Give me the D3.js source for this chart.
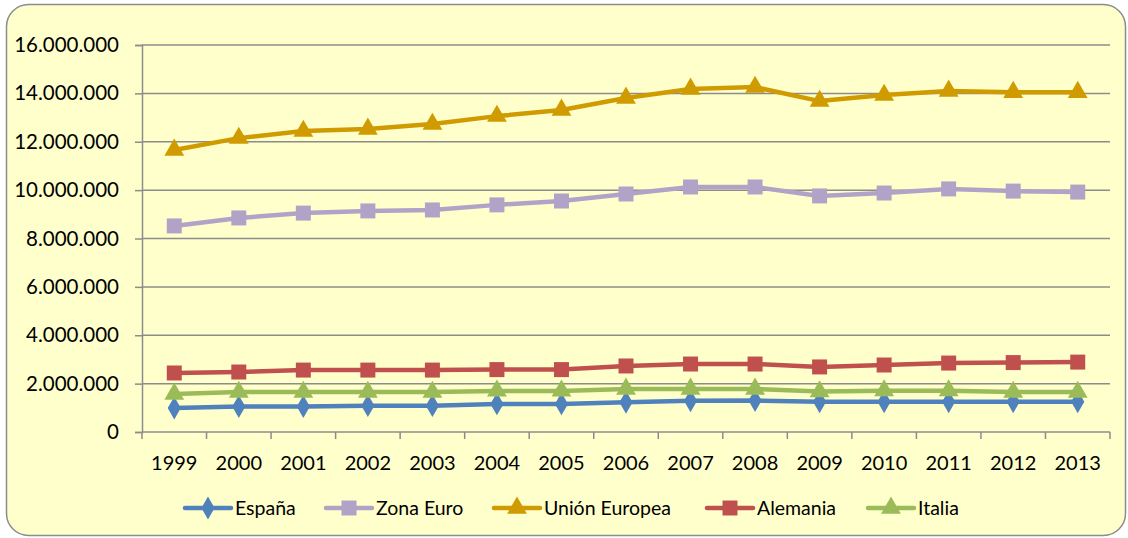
<!DOCTYPE html>
<meta charset="utf-8">
<script src="https://d3js.org/d3.v7.min.js"></script>
<style>
  body { margin: 0; background: #fff; }
  text { font-family: Lato, "Open Sans", sans-serif; fill: #000; }
</style>
<div id="chart"></div>
<script>
  // years on the x axis
  const years = ["1999","2000","2001","2002","2003","2004","2005","2006","2007","2008","2009","2010","2011","2012","2013"];
  // values
  const espana   = [990000,1050000,1050000,1090000,1090000,1160000,1160000,1230000,1290000,1300000,1250000,1250000,1250000,1250000,1250000];
  const zonaEuro = [8520000,8850000,9050000,9140000,9180000,9390000,9550000,9840000,10130000,10130000,9760000,9880000,10050000,9960000,9920000];
  const ue       = [11660000,12150000,12440000,12530000,12730000,13060000,13310000,13810000,14180000,14260000,13680000,13930000,14100000,14050000,14050000];
  const alemania = [2440000,2480000,2560000,2560000,2560000,2580000,2580000,2730000,2810000,2810000,2690000,2770000,2850000,2870000,2890000];
  const italia   = [1570000,1650000,1650000,1650000,1650000,1700000,1700000,1780000,1780000,1780000,1670000,1710000,1710000,1650000,1650000];
  const yTicks = [0,2000000,4000000,6000000,8000000,10000000,12000000,14000000,16000000];

  const series = [
    {name: "España", values: espana, color: "#4F81BD", marker: "diamond"},
    {name: "Zona Euro", values: zonaEuro, color: "#B3A2C7", marker: "square"},
    {name: "Unión Europea", values: ue, color: "#D09B00", marker: "triangle"},
    {name: "Alemania", values: alemania, color: "#C0504D", marker: "square"},
    {name: "Italia", values: italia, color: "#9BBB59", marker: "triangle"}
  ];

  var W = 1128, H = 538;
  var plot = {left: 142, right: 1110, top: 45, bottom: 432};

  var svg = d3.select("#chart").append("svg")
      .attr("width", W).attr("height", H);

  // frame
  svg.append("rect")
    .attr("x", 6.5).attr("y", 4.5)
    .attr("width", 1119).attr("height", 531)
    .attr("rx", 22).attr("ry", 22)
    .attr("fill", "#FFFFCC")
    .attr("stroke", "#8C8C8C").attr("stroke-width", 1.5);

  var x = d3.scaleBand().domain(years).range([plot.left, plot.right]);
  var y = d3.scaleLinear().domain([0, 16000000]).range([plot.bottom, plot.top]);

  var fmt = function(d) { return d3.format(",")(d).replace(/,/g, "."); };

  // gridlines
  svg.append("g").selectAll("line")
    .data(yTicks.slice(1))
    .enter().append("line")
      .attr("x1", plot.left).attr("x2", plot.right)
      .attr("y1", function(d) { return y(d); })
      .attr("y2", function(d) { return y(d); })
      .attr("stroke", "#8C8C8C").attr("stroke-width", 1.5);

  // y axis
  var yAxis = svg.append("g")
    .attr("transform", "translate(" + plot.left + ",0)")
    .call(d3.axisLeft(y).tickValues(yTicks).tickFormat(fmt).tickSize(7).tickPadding(16));
  yAxis.select(".domain").attr("stroke", "#8C8C8C").attr("stroke-width", 1.5);
  yAxis.selectAll(".tick line").attr("stroke", "#8C8C8C").attr("stroke-width", 1.5);
  yAxis.selectAll("text").style("font-size", "20.5px").attr("fill", "#000");

  // x axis: ticks at band boundaries
  var xAxis = svg.append("g")
    .attr("transform", "translate(0," + plot.bottom + ")");
  xAxis.append("line")
    .attr("x1", plot.left).attr("x2", plot.right)
    .attr("stroke", "#8C8C8C").attr("stroke-width", 1.5);
  var bounds = years.map(function(d) { return x(d); }).concat([plot.right]);
  xAxis.selectAll(".tk").data(bounds).enter().append("line")
    .attr("x1", function(d) { return d; }).attr("x2", function(d) { return d; })
    .attr("y1", 0).attr("y2", 7)
    .attr("stroke", "#8C8C8C").attr("stroke-width", 1.5);
  xAxis.selectAll(".lbl").data(years).enter().append("text")
    .attr("x", function(d) { return x(d) + x.bandwidth() / 2; })
    .attr("y", 38)
    .attr("text-anchor", "middle")
    .style("font-size", "20px")
    .text(function(d) { return d; });

  var cx = function(i) { return x(years[i]) + x.bandwidth() / 2; };

  var symbols = {
    diamond: d3.symbol().type(d3.symbolDiamond).size(150),
    square: d3.symbol().type(d3.symbolSquare).size(225),
    triangle: d3.symbol().type(d3.symbolTriangle).size(170)
  };

  var line = d3.line()
    .x(function(d, i) { return cx(i); })
    .y(function(d) { return y(d); });

  series.forEach(function(s) {
    var g = svg.append("g");
    g.append("path")
      .datum(s.values)
      .attr("d", line)
      .attr("fill", "none")
      .attr("stroke", s.color)
      .attr("stroke-width", 4.5)
      .attr("stroke-linejoin", "round");
    g.selectAll("path.m").data(s.values).enter().append("path")
      .attr("class", "m")
      .attr("d", symbols[s.marker])
      .attr("transform", function(d, i) { return "translate(" + cx(i) + "," + y(d) + ")"; })
      .attr("fill", s.color);
  });

  // legend
  var legX = [185, 326, 494, 707, 868];
  var legend = svg.append("g").attr("transform", "translate(0,508)");
  series.forEach(function(s, i) {
    var g = legend.append("g").attr("transform", "translate(" + legX[i] + ",0)");
    g.append("line").attr("x1", 0).attr("x2", 46)
      .attr("stroke", s.color).attr("stroke-width", 4.5).attr("stroke-linecap", "round");
    g.append("path").attr("d", symbols[s.marker]).attr("transform", "translate(23,0)").attr("fill", s.color);
    g.append("text").attr("x", 50).attr("y", 7).style("font-size", "19.5px").text(s.name);
  });
</script>
